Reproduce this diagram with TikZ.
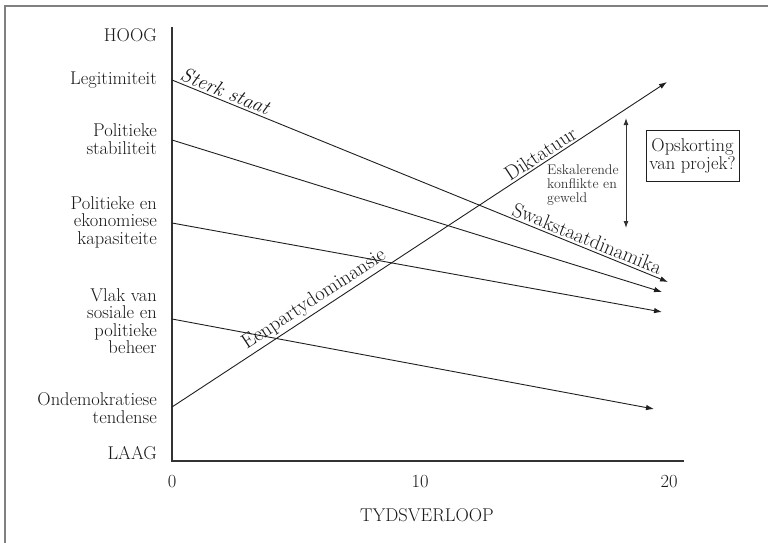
\documentclass[tikz,border=0pt]{standalone}
\usepackage{fontspec}
\usetikzlibrary{arrows.meta}
\begin{document}
\begin{tikzpicture}[x=1pt,y=1pt,
  lbl/.style={font=\fontsize{18.5}{17.5}\selectfont, text=black!90, inner sep=0pt, align=right, anchor=east},
  tick/.style={font=\fontsize{18.5}{17.5}\selectfont, text=black!90, inner sep=0pt},
  onl/.style={font=\fontsize{20.5}{20}\selectfont, text=black!90, sloped, above=2pt, inner sep=0pt},
  trend/.style={draw=black!88, line width=0.9pt, -{Latex[length=8pt,width=5.5pt]}},
  axis/.style={draw=black!80, line width=1.2pt},
  frame/.style={draw=black!50, line width=1.5pt}]
\useasboundingbox (0,0) rectangle (768,-543);
% frame (cropped)
\draw[frame] (5,-543) -- (5,-6) -- (768,-6);
% axes
\coordinate (ytop) at (172,-27);
\coordinate (orig) at (172,-461);
\coordinate (xend) at (684,-461);
\draw[axis] (ytop) -- (orig) -- (xend);
% line end points
\coordinate (s1) at (172,-80);  \coordinate (e1) at (668,-282);
\coordinate (s2) at (172,-140); \coordinate (e2) at (662,-292);
\coordinate (s3) at (172,-223); \coordinate (e3) at (662,-312);
\coordinate (s4) at (172,-319); \coordinate (e4) at (654,-409);
\coordinate (s5) at (172,-407); \coordinate (e5) at (667,-82);
% trend lines
\draw[trend] (s1) -- node[onl, pos=0.10, font=\fontsize{20.5}{20}\selectfont\itshape] (sterk) {Sterk staat}
                     node[onl, pos=0.83] (swak) {Swakstaatdinamika} (e1);
\draw[trend] (s2) -- (e2);
\draw[trend] (s3) -- (e3);
\draw[trend] (s4) -- (e4);
\draw[trend] (s5) -- node[onl, pos=0.30] (een) {Eenpartydominansie}
                     node[onl, pos=0.755] (dik) {Diktatuur} (e5);
% left labels
\node[lbl] (hoog) at (157,-35) {HOOG};
\node[lbl] (legit) at (157,-80) {Legitimiteit};
\node[lbl] (stab) at (157,-139) {Politieke\\stabiliteit};
\node[lbl] (kap) at (157,-222) {Politieke en\\ekonomiese\\kapasiteite};
\node[lbl] (beheer) at (157,-321) {Vlak van\\sosiale en\\politieke\\beheer};
\node[lbl] (tend) at (157,-408) {Ondemokratiese\\tendense};
\node[lbl] (laag) at (157,-453) {LAAG};
% ticks
\node[tick] (t0) at (172,-482) {0};
\node[tick] (t10) at (420,-482) {10};
\node[tick] (t20) at (669,-482) {20};
\node[tick] (tyd) at (427,-515) {TYDSVERLOOP};
% conflict arrow
\coordinate (da) at (626,-118);
\coordinate (db) at (626,-228);
\draw[draw=black!80, line width=0.9pt, {Latex[length=7pt,width=5pt]}-{Latex[length=7pt,width=5pt]}] (da) -- (db);
\node[font=\fontsize{14}{14}\selectfont, text=black!80, inner sep=0pt, align=left, anchor=west] (esk) at (547,-185) {Eskalerende\\konflikte en\\geweld};
% box
\node[draw=black!88, line width=0.9pt, font=\fontsize{18.5}{18}\selectfont, text=black!90, align=center, inner sep=2pt, minimum width=93pt, minimum height=51pt] (ops) at (692.5,-155.5) {Opskorting\\van projek?};
\end{tikzpicture}
\end{document}
